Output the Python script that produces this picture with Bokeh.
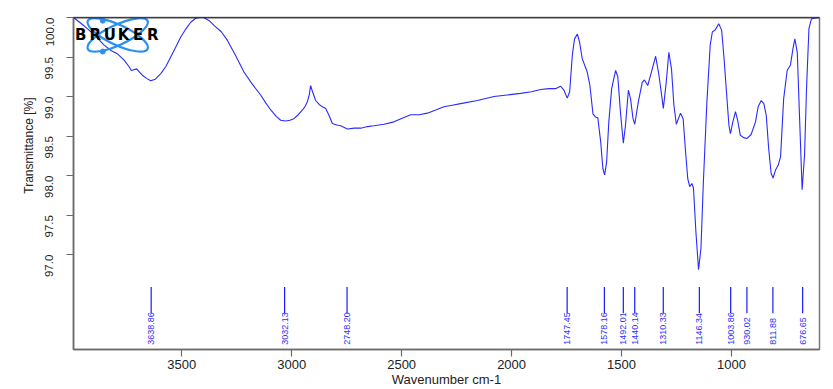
import math
from bokeh.plotting import figure
from bokeh.models import Range1d, FixedTicker, PrintfTickFormatter, Span, ColumnDataSource, Title
from bokeh.core.properties import value
from bokeh.embed import file_html
from bokeh.resources import INLINE

# ---- data ----
wavenumber = [3992, 3960, 3929, 3890, 3853, 3820, 3792, 3762, 3740, 3729, 3718, 3705, 3692, 3679, 3660,
              3641, 3620, 3595, 3572, 3550, 3528, 3505, 3480, 3459, 3436, 3418, 3400, 3375, 3353,
              3320, 3292, 3255, 3217, 3180, 3141, 3118, 3095, 3070, 3050, 3027, 3008, 2990, 2970,
              2951, 2940, 2929, 2920, 2914, 2905, 2891, 2875, 2860, 2845, 2830, 2815, 2795, 2777,
              2747, 2715, 2686, 2655, 2626, 2580, 2535, 2495, 2459, 2420, 2383, 2345, 2308, 2270,
              2232, 2155, 2080, 2020, 1959, 1910, 1868, 1830, 1800, 1777, 1762, 1747, 1736, 1724,
              1714, 1701, 1691, 1679, 1656, 1644, 1630, 1618, 1608, 1595, 1585, 1577, 1568, 1558,
              1545, 1527, 1517, 1505, 1492, 1482, 1469, 1459, 1448, 1440, 1424, 1406, 1396, 1381,
              1368, 1345, 1330, 1310, 1297, 1285, 1273, 1262, 1251, 1232, 1220, 1210, 1199, 1190,
              1180, 1173, 1162, 1150, 1139, 1128, 1112, 1097, 1087, 1075, 1058, 1045, 1035, 1023,
              1012, 1005, 994, 982, 972, 960, 945, 929, 911, 891, 879, 865, 853, 842, 831, 820,
              811, 800, 788, 777, 763, 747, 732, 721, 712, 701, 691, 679, 668, 659, 648, 637, 626, 600]
transmittance = [100.0, 99.93, 99.86, 99.76, 99.65, 99.58, 99.54, 99.46, 99.38, 99.33, 99.34, 99.35, 99.31, 99.27, 99.23,
                 99.20, 99.22, 99.29, 99.38, 99.50, 99.62, 99.75, 99.86, 99.94, 99.99, 100.0, 100.0, 99.96, 99.90,
                 99.82, 99.71, 99.52, 99.31, 99.16, 99.02, 98.92, 98.83, 98.75, 98.70, 98.69, 98.70, 98.72, 98.77,
                 98.83, 98.87, 98.93, 99.02, 99.14, 99.06, 98.95, 98.90, 98.87, 98.85, 98.76, 98.66, 98.64, 98.63,
                 98.59, 98.60, 98.60, 98.62, 98.63, 98.65, 98.68, 98.73, 98.77, 98.77, 98.79, 98.83, 98.87, 98.89,
                 98.91, 98.95, 99.00, 99.02, 99.04, 99.06, 99.09, 99.10, 99.10, 99.13, 99.08, 98.98, 99.06, 99.52,
                 99.73, 99.79, 99.69, 99.48, 99.31, 99.14, 98.78, 98.74, 98.73, 98.43, 98.09, 98.01, 98.17, 98.68,
                 99.10, 99.33, 99.25, 98.80, 98.41, 98.64, 99.08, 98.97, 98.72, 98.65, 98.93, 99.18, 99.21, 99.14,
                 99.27, 99.51, 99.27, 98.85, 99.18, 99.56, 99.35, 98.89, 98.65, 98.79, 98.72, 98.34, 97.96, 97.86,
                 97.90, 97.84, 97.29, 96.81, 97.08, 97.92, 98.93, 99.65, 99.82, 99.84, 99.92, 99.84, 99.52, 99.06,
                 98.64, 98.53, 98.68, 98.81, 98.70, 98.51, 98.48, 98.47, 98.52, 98.68, 98.87, 98.95, 98.91, 98.76, 98.34, 98.03,
                 97.97, 98.07, 98.13, 98.24, 98.97, 99.33, 99.40, 99.60, 99.73, 99.56, 98.76, 97.82, 98.26, 99.10, 99.86, 99.98, 99.99, 100.0]

peak_positions = [3638.86, 3032.13, 2748.20, 1747.45, 1578.16, 1492.01, 1440.14, 1310.33,
                  1146.34, 1003.86, 930.02, 811.88, 676.65]
peak_labels = ["3638.86", "3032.13", "2748.20", "1747.45", "1578.16", "1492.01", "1440.14", "1310.33",
               "1146.34", "1003.86", "930.02", "811.88", "676.65"]

y_ticks = [97.0, 97.5, 98.0, 98.5, 99.0, 99.5, 100.0]
x_ticks = [1000, 1500, 2000, 2500, 3000, 3500]

# ---- layout constants ----
X_START, X_END = 3992, 600
Y_MIN, Y_MAX = 95.8, 100.0
MARK_TOP, MARK_BOTTOM, MARK_TEXT = 96.59, 96.26, 95.86
FONT = "Liberation Sans"
BLUE = "#2a2aff"
LOGO_BLUE = "#2b8ff0"

p = figure(width=833, height=389, output_backend="svg", toolbar_location=None,
           x_range=Range1d(X_START, X_END), y_range=Range1d(Y_MIN, Y_MAX),
           min_border_left=73, min_border_right=14, min_border_top=17, min_border_bottom=39)
p.background_fill_color = "white"
p.border_fill_color = "white"
p.xgrid.visible = False
p.ygrid.visible = False
p.outline_line_color = "#7a7a7a"
p.outline_line_width = 1.5

# axes
p.xaxis.ticker = FixedTicker(ticks=x_ticks)
p.yaxis.ticker = FixedTicker(ticks=y_ticks)
p.yaxis.formatter = PrintfTickFormatter(format="%.1f")
for ax in (p.xaxis[0], p.yaxis[0]):
    ax.axis_line_color = "#6a6a6a"
    ax.axis_line_width = 1.5
    ax.major_tick_line_color = "#6a6a6a"
    ax.major_tick_line_width = 1.2
    ax.major_tick_out = 7
    ax.major_tick_in = 0
    ax.minor_tick_line_color = None
    ax.major_label_text_font = FONT
    ax.major_label_text_color = "#222222"
    ax.axis_label_text_font = FONT
    ax.axis_label_text_font_style = "normal"
    ax.axis_label_text_color = "#222222"
p.xaxis.major_label_text_font_size = "13px"
p.xaxis.major_label_standoff = 3
p.xaxis.axis_label = "Wavenumber cm-1"
p.xaxis.axis_label_text_font_size = "13px"
p.xaxis.axis_label_standoff = 0
p.yaxis.major_label_text_font_size = "11.5px"
p.yaxis.major_label_orientation = math.pi / 2
p.yaxis.major_label_standoff = 17

# y axis title (shifted upward like the reference)
p.add_layout(Title(text="Transmittance [%]", align="right", offset=80, standoff=6,
                   text_font=FONT, text_font_size="12px", text_font_style="normal",
                   text_color="#222222"), "left")

# top border black
p.add_layout(Span(location=Y_MAX, dimension="width", line_color="black", line_width=1.5))

# spectrum
p.line(wavenumber, transmittance, line_color=BLUE, line_width=1.1)

# peak markers
src = ColumnDataSource(dict(x=peak_positions, lab=peak_labels,
                            y0=[MARK_TOP] * len(peak_positions),
                            y1=[MARK_BOTTOM] * len(peak_positions),
                            yt=[MARK_TEXT] * len(peak_positions)))
p.segment(x0="x", y0="y0", x1="x", y1="y1", source=src, line_color="#1a1aff", line_width=1.2)
p.text(x="x", y="yt", text="lab", source=src, angle=math.pi / 2, text_align="left",
       text_baseline="middle", text_font=value(FONT), text_font_size="9px", text_color="#3030ff")

# Bruker logo
p.ellipse(x=[3791, 3791], y=[99.78, 99.78], width=[66, 66], height=[20, 20],
          width_units="screen", height_units="screen", angle=[0.44, -0.44],
          fill_color=None, line_color=LOGO_BLUE, line_width=2.2)
p.scatter(x=[3859, 3859], y=[99.96, 99.57], size=5, fill_color=LOGO_BLUE, line_color=LOGO_BLUE)
letters = ["B", "R", "U", "K", "E", "R"]
letter_x = [3959, 3893, 3827, 3764, 3698, 3632]
p.text(x=letter_x, y=[99.78] * 6, text=letters, text_font=value("DejaVu Sans"), text_font_style="bold",
       text_font_size="15px", text_align="center", text_baseline="middle", text_color="black")

open("out.html", "w").write(file_html(p, INLINE))
